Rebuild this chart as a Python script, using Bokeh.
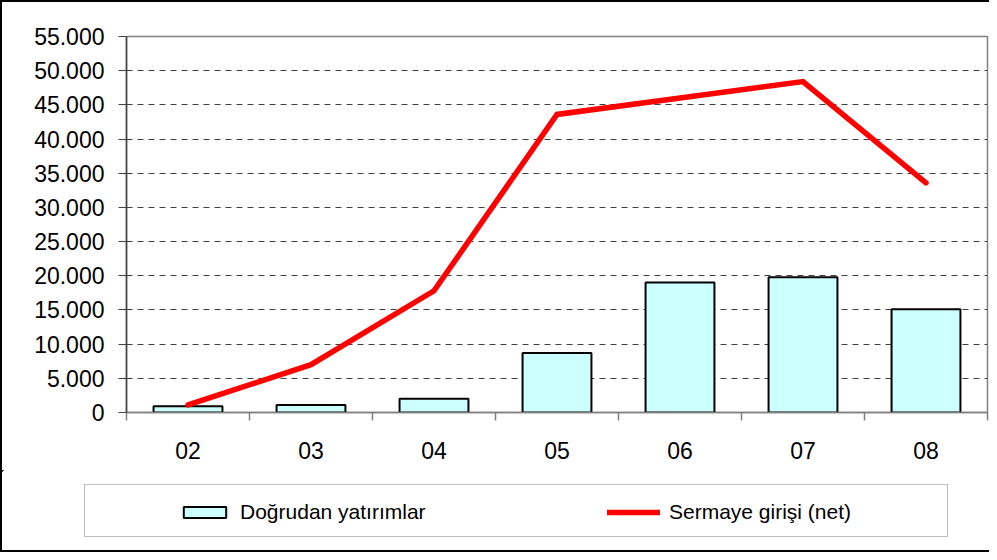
from bokeh.plotting import figure
from bokeh.layouts import column
from bokeh.models import (ColumnDataSource, FixedTicker, Range1d, Legend, LegendItem)
from bokeh.embed import file_html
from bokeh.resources import INLINE

# ---- data ----
years = ["02", "03", "04", "05", "06", "07", "08"]
direct_investment = [900, 1100, 2000, 8700, 19000, 19800, 15100]
capital_inflow = [1100, 7000, 17800, 43600, 46000, 48400, 33600]
y_ticks = [0, 5000, 10000, 15000, 20000, 25000, 30000, 35000, 40000, 45000, 50000, 55000]
y_tick_labels = ["0", "5.000", "10.000", "15.000", "20.000", "25.000", "30.000",
                 "35.000", "40.000", "45.000", "50.000", "55.000"]
bar_label = "Doğrudan yatırımlar"
line_label = "Sermaye girişi (net)"

FONT = "Liberation Sans"
BAR_FILL = "#CCFFFF"
LINE_RED = "#FF0000"

xs = list(range(len(years)))
src = ColumnDataSource(dict(x=xs, bar=direct_investment, line=capital_inflow))

# ---------------- main chart ----------------
p = figure(width=987, height=468, output_backend="svg", toolbar_location=None,
           x_range=Range1d(-0.5, len(years) - 0.5), y_range=Range1d(0, 55000),
           min_border_left=124, min_border_right=2, min_border_top=34, min_border_bottom=58)
p.frame_align = False
p.background_fill_color = "white"
p.border_fill_color = "white"
p.outline_line_color = "#808080"
p.outline_line_width = 1.5

p.xgrid.visible = False
p.ygrid.ticker = FixedTicker(ticks=y_ticks[1:-1])
p.ygrid.grid_line_color = "#404040"
p.ygrid.grid_line_dash = "6 5"
p.ygrid.grid_line_width = 1

p.yaxis.ticker = FixedTicker(ticks=y_ticks)
p.yaxis.major_label_overrides = {t: l for t, l in zip(y_ticks, y_tick_labels)}
p.yaxis.axis_line_color = "#404040"
p.yaxis.axis_line_width = 1.5
p.yaxis.major_tick_line_color = "#404040"
p.yaxis.major_tick_out = 8
p.yaxis.major_tick_in = 0
p.yaxis.minor_tick_line_color = None
p.yaxis.major_label_text_font = FONT
p.yaxis.major_label_text_font_size = "23px"
p.yaxis.major_label_text_color = "black"
p.yaxis.major_label_standoff = 14

p.xaxis.ticker = FixedTicker(ticks=xs, minor_ticks=[i - 0.5 for i in range(len(years) + 1)])
p.xaxis.major_label_overrides = {i: y for i, y in zip(xs, years)}
p.xaxis.axis_line_color = "#808080"
p.xaxis.axis_line_width = 1.5
p.xaxis.major_tick_line_color = None
p.xaxis.major_tick_out = 0
p.xaxis.major_tick_in = 0
p.xaxis.minor_tick_line_color = "#808080"
p.xaxis.minor_tick_line_width = 1.5
p.xaxis.minor_tick_out = 8
p.xaxis.minor_tick_in = 0
p.xaxis.major_label_text_font = FONT
p.xaxis.major_label_text_font_size = "23px"
p.xaxis.major_label_text_color = "black"
p.xaxis.major_label_standoff = 21

p.vbar(x="x", top="bar", width=0.56, source=src, fill_color=BAR_FILL,
       line_color="black", line_width=2)
p.line(x="x", y="line", source=src, line_color=LINE_RED, line_width=5.5,
       line_cap="round", line_join="miter")

# ---------------- legend strip ----------------
# ranges chosen so the proxy glyphs fall outside the strip's view
q = figure(width=987, height=80, output_backend="svg", toolbar_location=None,
           x_axis_type=None, y_axis_type=None,
           x_range=Range1d(100, 101), y_range=Range1d(-2, -1),
           min_border=0, min_border_left=0, min_border_right=0,
           min_border_top=0, min_border_bottom=0)
q.frame_align = False
q.outline_line_color = None
q.grid.visible = False
q.background_fill_color = "white"
q.border_fill_color = "white"

leg_bar = q.vbar(x="x", top="bar", width=0.56, source=src, fill_color=BAR_FILL,
                 line_color="black", line_width=2)
leg_line = q.line(x="x", y="line", source=src, line_color=LINE_RED, line_width=5.5,
                  line_cap="round")
dummy = q.scatter(x="x", y="line", source=src, alpha=0)

box = Legend(items=[LegendItem(label=" ", renderers=[dummy])],
             location=(82, 13), padding=0, margin=0, spacing=0,
             glyph_width=1, glyph_height=51, label_standoff=0,
             label_width=861, label_height=51,
             border_line_color="#808080", border_line_width=1.5,
             background_fill_color="white", background_fill_alpha=1,
             label_text_font_size="1px")
q.add_layout(box)

leg = Legend(items=[LegendItem(label=bar_label, renderers=[leg_bar]),
                    LegendItem(label=line_label, renderers=[leg_line])],
             orientation="horizontal", location=(176, 26),
             padding=0, margin=0, spacing=167,
             glyph_width=53, glyph_height=14, label_standoff=9,
             label_width=200, label_height=20,
             border_line_alpha=0, background_fill_alpha=0,
             label_text_font=FONT, label_text_font_size="21px",
             label_text_color="black", label_text_baseline="middle")
q.add_layout(leg)

layout = column(p, q, spacing=0,
                styles={"border-left": "2px solid #000", "border-top": "2px solid #000",
                        "border-bottom": "2px solid #000"})

open("out.html", "w").write(file_html(layout, INLINE))
